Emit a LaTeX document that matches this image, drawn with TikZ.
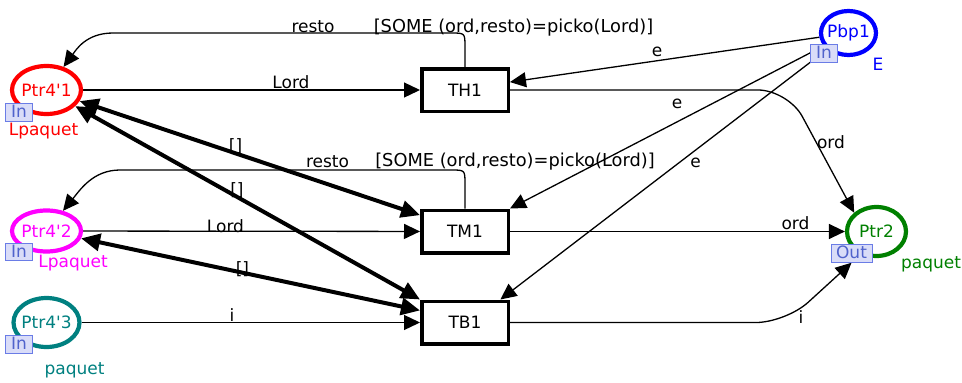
\documentclass[tikz,border=0pt]{standalone}
\usepackage{fontspec}
\setmainfont{DejaVu Sans}
\usetikzlibrary{arrows.meta,shapes.geometric,backgrounds}
\definecolor{cred}{HTML}{FF0000}
\definecolor{cmag}{HTML}{FF00FF}
\definecolor{cteal}{HTML}{008080}
\definecolor{cblue}{HTML}{0000FF}
\definecolor{cgreen}{HTML}{008000}
\definecolor{portfill}{HTML}{D9DCF8}
\definecolor{portline}{HTML}{6A7CE6}
\definecolor{porttext}{HTML}{5062CC}
\newcommand{\lbl}{\fontsize{17}{20}\selectfont}
\newcommand{\ap}{\textquotesingle}
\tikzset{
  place/.style={ellipse,draw,line width=4.2pt,fill=white,inner sep=0pt,minimum width=69pt,minimum height=48pt,font=\lbl},
  trans/.style={draw=black,line width=3.5pt,fill=white,minimum width=86.5pt,minimum height=42.5pt,inner sep=0pt,font=\lbl},
  port/.style={draw=portline,line width=1pt,fill=portfill,text=porttext,inner sep=0pt,minimum width=27pt,minimum height=17.5pt,text height=12.5pt,text depth=2.5pt,font=\lbl},
  lab/.style={anchor=base,inner sep=0pt,font=\lbl},
  guard/.style={lab,font=\fontsize{17.8}{20}\selectfont},
  arc/.style={-{Triangle[length=16pt,width=15pt]},line width=1.3pt},
  barc/.style={{Triangle[length=19pt,width=17pt]}-{Triangle[length=19pt,width=17pt]},line width=4pt},
}
\begin{document}
\begin{tikzpicture}[x=1pt,y=-1pt]
  \useasboundingbox (0,0) rectangle (962,383);
  % places
  \node[place,draw=cred,text=cred] (p41) at (46.5,90) {\makebox[0pt]{Ptr4\ap1}};
  \node[place,draw=cmag,text=cmag,minimum height=41pt] (p42) at (46.5,231) {\makebox[0pt]{Ptr4\ap2}};
  \node[place,draw=cteal,text=cteal,minimum width=66pt,minimum height=49pt] (p43) at (46.5,322.5) {\makebox[0pt]{Ptr4\ap3}};
  \node[place,draw=cblue,text=cblue,minimum width=55pt,minimum height=44pt] (pbp1) at (848.5,33) {\makebox[0pt]{Pbp1}};
  \node[place,draw=cgreen,text=cgreen,minimum width=59pt,minimum height=49pt] (ptr2) at (876.5,231.5) {\makebox[0pt]{Ptr2}};
  \node[port] (i41) at (19,112.5) {In};
  \node[port] (i42) at (19,252) {In};
  \node[port] (i43) at (19,344.5) {In};
  \node[port] (ibp) at (824,53.5) {In};
  \node[port,minimum width=41pt] (o2) at (851.5,253.5) {Out};
  \node[lab,text=cred] (t41) at (43.5,135) {Lpaquet};
  \node[lab,text=cmag] (t42) at (73,267) {Lpaquet};
  \node[lab,text=cteal] (t43) at (74.5,374) {paquet};
  \node[lab,text=cblue] (tbp) at (878,70) {E};
  \node[lab,text=cgreen] (t2) at (931,268) {paquet};
  % transitions
  \node[trans] (th1) at (465,90) {TH1};
  \node[trans] (tm1) at (465,231.5) {TM1};
  \node[trans] (tb1) at (465,322.5) {TB1};
  \node[guard] (g1) at (513.5,32) {[SOME (ord,resto)=picko(Lord)]};
  \node[guard] (g2) at (515,166.5) {[SOME (ord,resto)=picko(Lord)]};
  % arcs
  \begin{scope}[on background layer]
    \draw[arc] (p41) -- (th1);
    \draw[arc] (th1.north) -- (465,47) .. controls (465,33) .. (451,33) -- (113,33) .. controls (86,33) and (76,50) .. (p41);
    \draw[arc] (pbp1) -- (th1.10);
    \draw[arc,rounded corners=30pt] (th1) -- (788,90) -- (ptr2.north west);
    \draw[arc] (pbp1) -- (tm1.north east);
    \draw[arc] (pbp1) -- (tb1.33);
    \draw[arc] (p42) -- (tm1);
    \draw[arc] (tm1.north) -- (465,184) .. controls (465,170) .. (451,170) -- (120,170) .. controls (93,170) and (80,190) .. (p42);
    \draw[arc] (tm1) -- (ptr2);
    \draw[barc] (p41) -- (tm1.160);
    \draw[barc] (p41) -- (tb1.north west);
    \draw[barc] (p42) -- (tb1.165);
    \draw[arc] (p43) -- (tb1);
    \draw[arc,rounded corners=30pt] (tb1) -- (786,322.5) -- (o2.south);
  \end{scope}
  % arc inscriptions
  \node[lab] (a1) at (313,32) {resto};
  \node[lab] (a2) at (291,88) {Lord};
  \node[lab] (a3) at (657,56.5) {e};
  \node[lab] (a4) at (677,108) {e};
  \node[lab] (a5) at (831,148) {ord};
  \node[lab] (a6) at (695.5,167) {e};
  \node[lab] (a7) at (235.5,151) {[]};
  \node[lab] (a8) at (327.5,167) {resto};
  \node[lab] (a9) at (237,195) {[]};
  \node[lab] (a10) at (225.5,232) {Lord};
  \node[lab] (a11) at (242.5,274) {[]};
  \node[lab] (a12) at (795.5,229) {ord};
  \node[lab] (a13) at (232,321) {i};
  \node[lab] (a14) at (801,323) {i};
\end{tikzpicture}
\end{document}
